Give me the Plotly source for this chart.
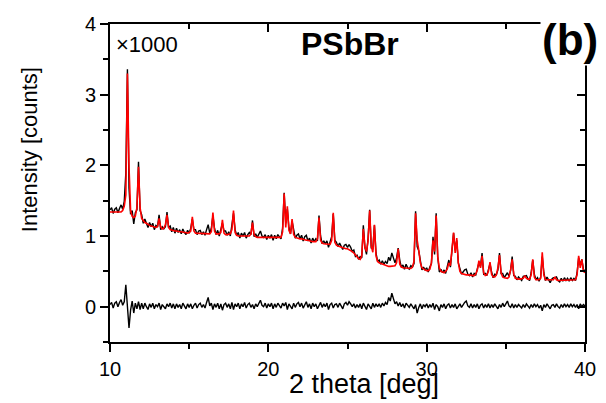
import plotly.graph_objects as go

# 2-theta sampling grid (deg): 10.0 ... 40.0 in 0.1 steps
two_theta = [round(10 + 0.1 * i, 1) for i in range(301)]

# calculated pattern (x1000 counts), one row per degree
calc = [
    1.34, 1.34, 1.34, 1.33, 1.33, 1.33, 1.33, 1.34, 1.36, 1.42,   # 10
    1.58, 3.30, 1.98, 1.36, 1.28, 1.26, 1.28, 1.40, 1.98, 1.40,   # 11
    1.25, 1.21, 1.19, 1.18, 1.16, 1.15, 1.14, 1.13, 1.12, 1.12,   # 12
    1.13, 1.25, 1.13, 1.10, 1.11, 1.16, 1.30, 1.12, 1.09, 1.08,   # 13
    1.08, 1.07, 1.07, 1.06, 1.06, 1.06, 1.05, 1.05, 1.05, 1.04,   # 14
    1.05, 1.07, 1.27, 1.07, 1.04, 1.04, 1.04, 1.03, 1.03, 1.03,   # 15
    1.03, 1.03, 1.03, 1.03, 1.06, 1.33, 1.07, 1.03, 1.03, 1.03,   # 16
    1.05, 1.23, 1.04, 1.02, 1.02, 1.02, 1.03, 1.09, 1.36, 1.05,   # 17
    1.01, 1.00, 1.00, 1.00, 1.00, 0.99, 0.99, 0.99, 1.00, 1.03,   # 18
    1.19, 1.02, 0.99, 0.98, 0.98, 0.98, 0.98, 0.98, 0.97, 0.97,   # 19
    0.97, 0.97, 0.97, 0.97, 0.97, 0.97, 0.97, 0.97, 0.98, 1.06,   # 20
    1.60, 1.12, 1.42, 1.08, 1.03, 1.24, 1.02, 0.98, 0.97, 0.97,   # 21
    0.96, 0.96, 0.95, 0.95, 0.94, 0.94, 0.93, 0.93, 0.92, 0.92,   # 22
    0.92, 0.96, 1.26, 0.94, 0.90, 0.89, 0.89, 0.88, 0.88, 0.88,   # 23
    0.94, 1.33, 0.91, 0.87, 0.86, 0.85, 0.84, 0.84, 0.83, 0.82,   # 24
    0.82, 0.81, 0.80, 0.78, 0.76, 0.73, 0.70, 0.68, 0.67, 0.72,   # 25
    1.10, 0.84, 0.78, 0.93, 1.36, 0.86, 0.77, 1.16, 0.72, 0.64,   # 26
    0.62, 0.61, 0.60, 0.59, 0.58, 0.58, 0.57, 0.57, 0.57, 0.57,   # 27
    0.58, 0.62, 0.82, 0.60, 0.56, 0.55, 0.55, 0.55, 0.54, 0.54,   # 28
    0.54, 0.56, 0.64, 1.32, 0.94, 0.80, 0.62, 0.55, 0.53, 0.52,   # 29
    0.51, 0.51, 0.53, 0.62, 0.94, 0.78, 1.29, 0.70, 0.55, 0.50,   # 30
    0.49, 0.48, 0.50, 0.53, 0.62, 0.58, 0.82, 1.05, 0.76, 0.97,   # 31
    0.62, 0.50, 0.47, 0.46, 0.46, 0.45, 0.45, 0.45, 0.44, 0.44,   # 32
    0.44, 0.46, 0.52, 0.65, 0.55, 0.72, 0.48, 0.44, 0.45, 0.50,   # 33
    0.63, 0.46, 0.42, 0.42, 0.45, 0.55, 0.73, 0.48, 0.42, 0.41,   # 34
    0.41, 0.40, 0.42, 0.52, 0.67, 0.46, 0.40, 0.39, 0.39, 0.39,   # 35
    0.39, 0.40, 0.44, 0.40, 0.39, 0.39, 0.45, 0.67, 0.42, 0.38,   # 36
    0.38, 0.38, 0.40, 0.77, 0.45, 0.38, 0.38, 0.38, 0.37, 0.37,   # 37
    0.38, 0.42, 0.38, 0.37, 0.37, 0.37, 0.37, 0.37, 0.37, 0.37,   # 38
    0.37, 0.37, 0.37, 0.37, 0.38, 0.45, 0.72, 0.55, 0.67, 0.50,   # 39
    0.48,                                                         # 40
]

# difference curve (observed - calculated), x1000 counts
diff = [
    0.03, 0.06, -0.02, 0.05, 0.07, 0.00, 0.06, 0.10, 0.02, 0.07,   # 10
    0.31, 0.06, -0.30, -0.05, 0.08, -0.09, 0.05, -0.03, 0.07, -0.04,  # 11
    0.05, -0.03, 0.05, 0.00, -0.04, 0.04, -0.01, 0.05, -0.03, 0.03,  # 12
    0.00, 0.05, -0.04, 0.03, -0.01, -0.03, 0.04, 0.00, 0.05, -0.02,  # 13
    0.04, -0.03, 0.04, -0.01, 0.03, -0.03, 0.05, 0.00, -0.03, 0.04,  # 14
    -0.01, 0.04, -0.03, 0.02, 0.05, -0.02, 0.03, 0.05, -0.01, 0.03,  # 15
    -0.02, 0.06, 0.13, 0.01, 0.05, -0.04, 0.04, -0.01, 0.05, -0.03,  # 16
    0.04, -0.05, 0.03, 0.05, -0.01, 0.04, -0.03, 0.06, -0.04, 0.04,  # 17
    0.00, 0.05, -0.03, 0.04, 0.00, 0.06, -0.02, 0.03, 0.05, -0.01,   # 18
    0.03, -0.03, 0.04, 0.00, 0.05, 0.09, 0.02, 0.00, 0.05, -0.02,    # 19
    0.04, 0.00, 0.05, -0.03, 0.04, -0.01, 0.05, 0.01, -0.02, 0.05,   # 20
    0.01, 0.06, -0.04, 0.04, 0.00, -0.03, 0.05, -0.01, 0.04, 0.06,   # 21
    0.00, 0.05, -0.02, 0.04, 0.07, -0.01, 0.04, -0.03, 0.05, 0.00,   # 22
    0.04, -0.03, 0.03, 0.06, -0.01, 0.04, 0.00, 0.05, -0.04, 0.03,   # 23
    0.05, -0.02, 0.03, 0.04, -0.01, 0.05, 0.01, -0.03, 0.04, 0.06,   # 24
    0.02, 0.07, 0.04, 0.00, 0.04, -0.02, 0.03, -0.01, 0.04, -0.03,   # 25
    0.05, 0.00, -0.04, 0.04, 0.01, -0.03, 0.05, -0.01, 0.04, 0.00,   # 26
    0.04, -0.01, 0.05, 0.01, 0.06, 0.03, 0.13, 0.08, 0.19, 0.10,     # 27
    0.04, 0.07, 0.01, 0.06, 0.00, 0.04, -0.02, 0.05, 0.01, -0.01,    # 28
    0.04, 0.00, -0.03, 0.03, -0.09, -0.01, 0.04, -0.03, 0.03, 0.00,  # 29
    0.04, -0.02, 0.03, -0.01, 0.05, -0.04, 0.03, 0.00, -0.06, 0.03,  # 30
    -0.01, 0.04, -0.03, 0.02, 0.04, -0.02, 0.03, -0.01, 0.04, -0.03,  # 31
    0.00, 0.04, -0.01, 0.03, 0.06, 0.08, 0.01, -0.01, 0.04, -0.02,   # 32
    0.03, -0.01, 0.04, -0.03, 0.02, 0.04, -0.02, 0.03, -0.01, 0.04,  # 33
    -0.02, 0.03, -0.01, 0.04, 0.00, -0.03, 0.03, -0.01, 0.05, 0.00,  # 34
    0.04, 0.08, 0.01, -0.01, 0.04, -0.02, 0.03, -0.01, 0.03, 0.00,   # 35
    -0.02, 0.03, -0.01, 0.04, 0.00, -0.02, 0.03, -0.01, 0.04, 0.00,  # 36
    0.03, -0.02, 0.02, -0.06, 0.03, -0.01, 0.04, 0.00, -0.03, 0.02,  # 37
    0.03, -0.01, 0.04, 0.00, -0.02, 0.03, -0.01, 0.04, 0.00, 0.03,   # 38
    -0.01, 0.04, 0.00, 0.03, -0.01, 0.03, -0.03, 0.04, 0.00, 0.03,   # 39
    0.01,                                                          # 40
]

# observed pattern = calculated + difference
obs = [round(c + d, 3) for c, d in zip(calc, diff)]

x_ticks = [10, 20, 30, 40]
y_ticks = [0, 1, 2, 3, 4]

FONT = "Arial, Liberation Sans, sans-serif"

fig = go.Figure()
fig.add_trace(go.Scatter(x=two_theta, y=obs, mode="lines",
                         line=dict(color="black", width=1.4), showlegend=False))
fig.add_trace(go.Scatter(x=two_theta, y=calc, mode="lines",
                         line=dict(color="#ff0000", width=1.6), showlegend=False))
fig.add_trace(go.Scatter(x=two_theta, y=diff, mode="lines",
                         line=dict(color="black", width=1.4), showlegend=False))

axis_common = dict(showgrid=False, zeroline=False, showline=True, automargin=False,
                   linecolor="black", linewidth=1.8, tickcolor="black",
                   tickwidth=1.5)

# the page body adds an 8px offset, margins compensate for it
fig.update_layout(
    width=606, height=403,
    margin=dict(l=102, r=29, t=16, b=69),
    paper_bgcolor="white", plot_bgcolor="white",
    font=dict(family=FONT, color="black"),
    xaxis=dict(range=[10, 40], tickvals=x_ticks, ticks="outside", ticklen=8,
               tickfont=dict(size=20), minor=dict(ticks="outside", dtick=5, tick0=10,
                                                  ticklen=5, tickcolor="black"),
               **axis_common),
    yaxis=dict(range=[-0.5, 4], tickvals=y_ticks, ticks="outside", ticklen=8,
               tickfont=dict(size=20), minor=dict(ticks="outside", dtick=0.5, tick0=0,
                                                  ticklen=5, tickcolor="black"),
               **axis_common),
    xaxis2=dict(overlaying="x", matches="x", side="top", anchor="y",
                range=[10, 40], tickvals=x_ticks, ticks="inside", ticklen=8,
                showticklabels=False,
                minor=dict(ticks="inside", dtick=5, tick0=10, ticklen=5, tickcolor="black"),
                **axis_common),
    yaxis2=dict(overlaying="y", side="right", anchor="x",
                range=[-0.5, 4], tickvals=y_ticks, ticks="inside", ticklen=8,
                showticklabels=False,
                minor=dict(ticks="inside", dtick=0.5, tick0=0, ticklen=5, tickcolor="black"),
                **axis_common),
)

# invisible trace to activate the mirrored overlay axes
fig.add_trace(go.Scatter(x=[10, 40], y=[-0.5, 4], xaxis="x2", yaxis="y2",
                         mode="markers", marker=dict(opacity=0), hoverinfo="skip",
                         showlegend=False))

fig.add_annotation(text="2 theta [deg]", xref="paper", yref="paper",
                   x=0.535, y=-0.132, xanchor="center", yanchor="middle",
                   showarrow=False, font=dict(size=27))
fig.add_annotation(text="Intensity [counts]", xref="paper", yref="paper",
                   x=-0.168, y=0.604, xanchor="center", yanchor="middle",
                   textangle=-90, showarrow=False, font=dict(size=22))
fig.add_annotation(text="×1000", xref="paper", yref="paper",
                   x=0.008, y=0.937, xanchor="left", yanchor="middle",
                   showarrow=False, font=dict(size=22))
fig.add_annotation(text="<b>PSbBr</b>", xref="paper", yref="paper",
                   x=0.505, y=0.937, xanchor="center", yanchor="middle",
                   showarrow=False, font=dict(size=32))
fig.add_annotation(text="<b>(b)</b>", xref="paper", yref="paper",
                   x=0.968, y=0.95, xanchor="center", yanchor="middle",
                   showarrow=False, font=dict(size=44), bgcolor="white")

fig.write_html("out.html")
